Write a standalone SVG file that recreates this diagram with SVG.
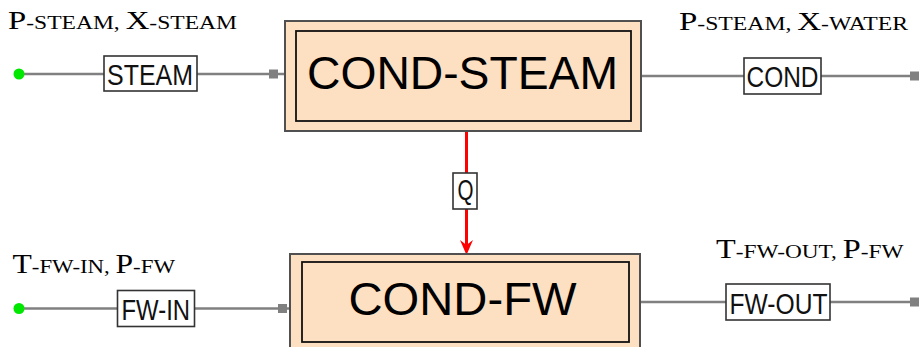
<svg xmlns="http://www.w3.org/2000/svg" width="921" height="347" viewBox="0 0 921 347">
<style>
.ln{stroke:#808080;stroke-width:2.6;fill:none}
.end{fill:#808080}
.src{fill:#00e800}
.sb{fill:#fff;stroke:#333;stroke-width:1.6}
.st{font-family:"Liberation Sans",Arial,sans-serif;font-size:30px;fill:#111}
.outer{fill:#fddfc1;stroke:#505050;stroke-width:2}
.inner{fill:none;stroke:#111;stroke-width:1.8}
.bt{font-family:"Liberation Sans",Arial,sans-serif;font-size:46px;fill:#000;text-anchor:middle}
.lbl{font-family:"Liberation Serif","Times New Roman",serif;fill:#000}
.heat{stroke:#ff0000;stroke-width:3;fill:none}
</style>
<rect width="921" height="347" fill="#fff"/>
<g id="connectors">
  <g id="steam">
    <line class="ln" x1="19" y1="74" x2="285" y2="74"/>
    <circle class="src" cx="19" cy="74" r="5.5"/>
    <rect class="end" x="269" y="69.5" width="9" height="9"/>
    <rect class="sb" x="104" y="56" width="93" height="35"/>
    <text class="st" x="107" y="84.5" textLength="86" lengthAdjust="spacingAndGlyphs">STEAM</text>
  </g>
  <g id="cond">
    <line class="ln" x1="641" y1="76" x2="914" y2="76"/>
    <rect class="end" x="910" y="71.5" width="9" height="9"/>
    <rect class="sb" x="744" y="58" width="77" height="36"/>
    <text class="st" x="746.5" y="87" textLength="72" lengthAdjust="spacingAndGlyphs">COND</text>
  </g>
  <g id="fw-in">
    <line class="ln" x1="19" y1="308.5" x2="290" y2="308.5"/>
    <circle class="src" cx="19" cy="308.5" r="5.5"/>
    <rect class="end" x="278" y="304" width="9" height="9"/>
    <rect class="sb" x="117.5" y="290.5" width="77" height="36"/>
    <text class="st" x="121.5" y="319.5" textLength="68.5" lengthAdjust="spacingAndGlyphs">FW-IN</text>
  </g>
  <g id="fw-out">
    <line class="ln" x1="640" y1="302" x2="914" y2="302"/>
    <rect class="end" x="910" y="297.5" width="9" height="9"/>
    <rect class="sb" x="726" y="284" width="104" height="36"/>
    <text class="st" x="729.5" y="313.5" textLength="98" lengthAdjust="spacingAndGlyphs">FW-OUT</text>
  </g>
  <g id="q">
    <line class="heat" x1="466.5" y1="131" x2="466.5" y2="247"/>
    <polygon points="460,240 466.5,245 473,240 466.5,255" fill="#ff0000"/>
    <rect class="sb" x="453" y="173" width="24" height="36"/>
    <text class="st" x="457.5" y="200" font-size="25" textLength="16" lengthAdjust="spacingAndGlyphs">Q</text>
  </g>
</g>
<g id="cond-steam">
  <rect class="outer" x="285" y="21" width="356" height="110"/>
  <rect class="inner" x="296" y="31" width="335" height="90"/>
  <text class="bt" x="462.5" y="89" textLength="311" lengthAdjust="spacingAndGlyphs">COND-STEAM</text>
</g>
<g id="cond-fw">
  <rect class="outer" x="290" y="254" width="350" height="100"/>
  <rect class="inner" x="302" y="262" width="327" height="80"/>
  <text class="bt" x="462.5" y="315" textLength="228" lengthAdjust="spacingAndGlyphs">COND-FW</text>
</g>
<g id="labels">
  <text class="lbl" x="8" y="29" textLength="229" lengthAdjust="spacingAndGlyphs"><tspan font-size="25">P</tspan><tspan font-size="18">-STEAM, </tspan><tspan font-size="25">X</tspan><tspan font-size="18">-STEAM</tspan></text>
  <text class="lbl" x="679" y="29.5" textLength="229" lengthAdjust="spacingAndGlyphs"><tspan font-size="25">P</tspan><tspan font-size="18">-STEAM, </tspan><tspan font-size="25">X</tspan><tspan font-size="18">-WATER</tspan></text>
  <text class="lbl" x="12.5" y="273" textLength="162.5" lengthAdjust="spacingAndGlyphs"><tspan font-size="27">T</tspan><tspan font-size="19.5">-FW-IN, </tspan><tspan font-size="27">P</tspan><tspan font-size="19.5">-FW</tspan></text>
  <text class="lbl" x="716" y="258" textLength="187.5" lengthAdjust="spacingAndGlyphs"><tspan font-size="27">T</tspan><tspan font-size="19.5">-FW-OUT, </tspan><tspan font-size="27">P</tspan><tspan font-size="19.5">-FW</tspan></text>
</g>
</svg>
